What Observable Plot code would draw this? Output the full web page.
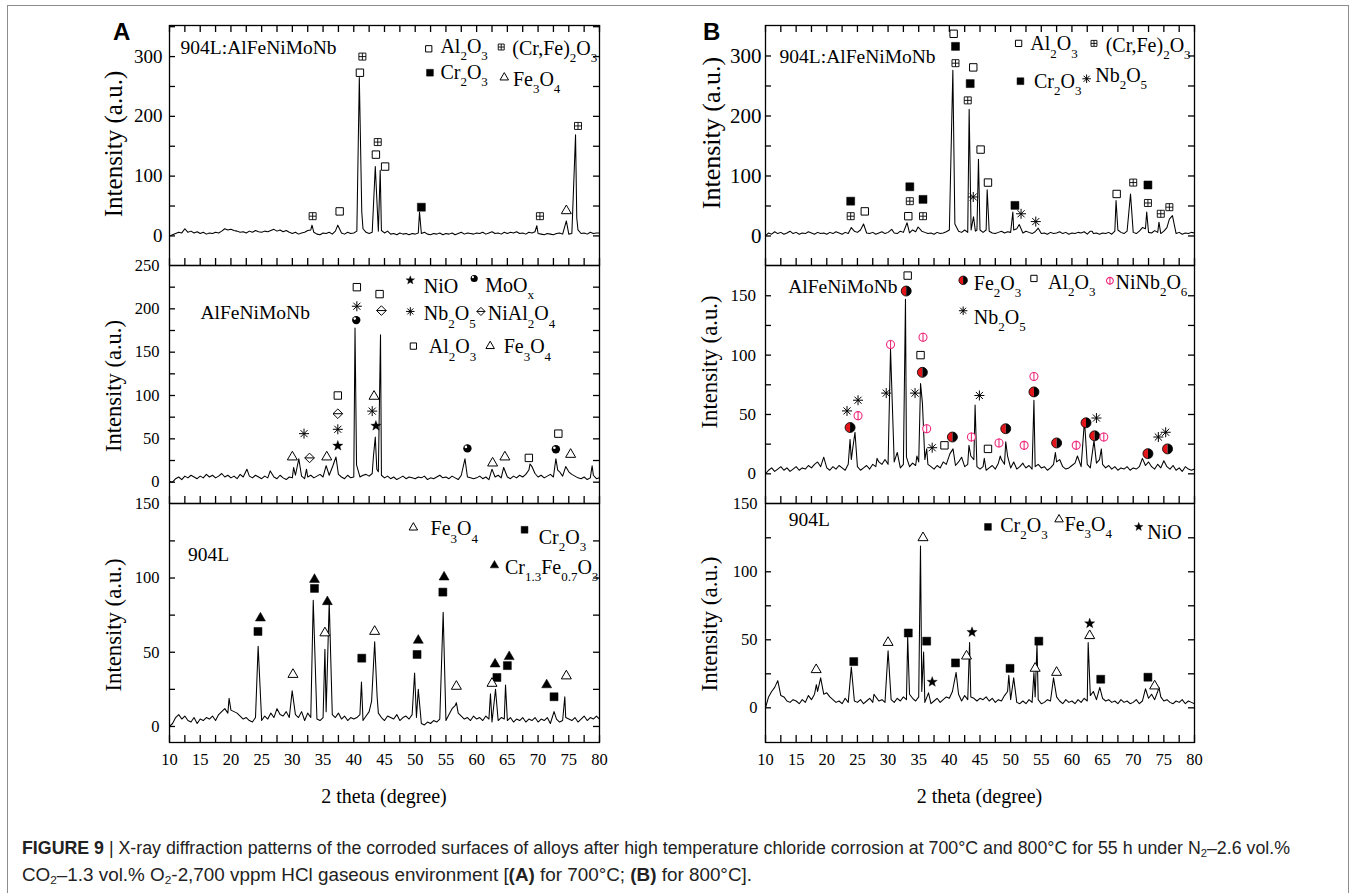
<!DOCTYPE html>
<html><head><meta charset="utf-8">
<script src="https://cdn.jsdelivr.net/npm/d3@7"></script>
<script src="https://cdn.jsdelivr.net/npm/@observablehq/plot@0.6"></script>
<style>
html,body{margin:0;padding:0;background:#fff;}
body{width:1354px;height:893px;overflow:hidden;position:relative;font-family:"Liberation Serif","Times New Roman",serif;}
#border{position:absolute;left:7px;top:5px;width:1340px;height:1000px;border:1px solid #8c8c8c;}
.panel{position:absolute;}
#overlay{position:absolute;left:0;top:0;pointer-events:none;}
.cap{position:absolute;left:22px;white-space:nowrap;font-family:"Liberation Sans",Arial,sans-serif;font-size:17.5px;color:#222;transform-origin:0 50%;line-height:20px;}
.cap sub{font-size:11px;vertical-align:-3px;line-height:0;}
</style></head><body>
<div id="border"></div>
<div id="root"></div>
<svg id="overlay" width="1354" height="893"></svg>
<div id="cap1" class="cap" style="top:838px"><b>FIGURE 9</b> | X-ray diffraction patterns of the corroded surfaces of alloys after high temperature chloride corrosion at 700°C and 800°C for 55 h under N<sub>2</sub>–2.6 vol.%</div>
<div id="cap2" class="cap" style="top:865px">CO<sub>2</sub>–1.3 vol.% O<sub>2</sub>-2,700 vppm HCl gaseous environment [<b>(A)</b> for 700°C; <b>(B)</b> for 800°C].</div>
<script>
// ---------------- DATA ----------------
// 2θ grid of the baseline samples: start and step (degrees)
const X0 = 10, STEP = 0.5;
const X_TICKS = [10,15,20,25,30,35,40,45,50,55,60,65,70,75,80];

// Baseline intensities (a.u.), one value every 0.5° from 10° to 80°
const BASE_A1 = [0,2,4,6,5,12,6,8,5,7, 4,6,3,5,4,6,5,8,12,10, 11,9,8,6,7,5,8,6,9,7, 6,8,7,9,11,8,10,7,9,6,
 4,6,3,5,6,9,10,6,3,2, 5,4,6,3,8,12,5,3,6,4, 5,8,9,12,6,4,6,7,8,9, 5,8,3,4,2,5,3,4,2,4,
 3,5,4,6,3,2,4,3,5,2, 4,3,5,2,4,6,3,5,4,3, 5,4,6,3,5,7,4,5,3,6, 4,6,5,7,4,5,3,6,5,7,
 4,3,2,4,3,2,4,5,3,6, 3,4,8,10,4,5,3,6,4,5, 5];
const BASE_A2 = [1,0,4,6,3,7,5,8,6,4, 7,5,9,6,8,5,7,10,6,8, 5,7,4,9,6,8,7,5,8,6, 4,7,5,9,6,4,8,5,3,6,
 5,8,6,7,4,6,8,5,7,9, 6,12,8,10,7,9,6,4,8,5, 6,12,6,8,9,7,10,12,12,8, 5,7,4,6,3,5,7,4,6,5,
 4,6,5,7,3,5,4,6,8,5, 6,4,7,5,3,8,9,6,5,4, 5,7,4,6,3,9,6,8,5,7, 6,4,7,5,8,6,9,14,18,10,
 6,8,5,7,9,6,8,12,7,6, 12,9,7,5,4,6,3,5,8,4, 5];
const BASE_A3 = [0,2,6,8,5,7,4,3,6,2, 5,4,6,5,7,4,8,10,12,9, 11,10,9,7,5,6,4,3,6,5, 4,7,5,9,6,12,8,7,10,6,
 5,8,6,10,4,9,6,7,5,4, 6,10,5,8,6,9,5,7,4,6, 5,6,8,4,7,10,14,12,9,6, 4,7,6,5,8,4,6,7,5,8,
 6,4,2,1,3,2,4,3,5,6, 4,8,12,14,9,7,5,6,4,7, 5,6,4,7,5,3,8,4,6,5, 4,6,3,5,4,6,3,5,4,6,
 3,5,4,6,2,4,5,3,4,6, 5,4,6,3,5,7,4,6,5,7, 5];
const BASE_B1 = [0,5,3,7,4,6,3,5,8,4, 6,3,5,4,7,5,3,6,4,5, 3,6,4,7,5,3,6,4,5,8, 6,10,8,5,4,6,3,5,7,4,
 6,10,5,4,8,6,9,5,10,7, 12,8,6,4,5,3,6,4,5,7, 10,12,15,8,6,10,6,8,6,10, 5,6,10,8,5,4,6,8,5,7,
 6,10,12,8,5,8,6,4,7,6, 4,5,3,6,4,5,7,4,6,3, 5,4,6,5,7,3,8,4,5,3, 5,4,6,3,8,10,6,4,8,12,
 6,4,8,14,12,6,5,9,6,4, 8,14,12,7,4,6,3,5,4,6, 5];
const BASE_B2 = [0,3,5,2,4,6,3,5,2,4, 6,3,5,4,7,5,8,10,6,9, 5,3,6,4,7,5,3,8,12,15, 6,3,5,7,4,8,6,10,8,12,
 8,12,10,6,5,8,14,6,9,7, 10,15,12,8,6,4,7,5,10,8, 9,12,7,10,14,6,8,15,12,6, 4,6,3,5,7,4,9,12,8,15,
 5,8,4,6,9,5,7,4,6,8, 5,6,3,5,8,10,12,6,4,5, 7,9,12,6,10,8,5,7,9,12, 8,5,7,4,6,3,5,4,6,3,
 5,4,6,8,7,10,6,4,8,5, 9,6,4,7,3,5,2,6,4,3, 4];
const BASE_B3 = [0,8,12,15,12,9,8,5,4,6, 5,3,6,4,9,6,10,12,14,10, 11,8,6,4,5,3,7,4,6,5, 4,6,3,5,7,4,8,5,6,4,
 5,6,4,7,5,8,6,10,7,5, 8,12,4,6,3,5,7,4,6,8, 7,12,8,10,5,9,6,8,7,5, 7,6,8,5,7,4,6,5,9,12,
 6,8,4,3,5,3,6,4,8,6, 3,4,6,5,4,8,5,3,6,4, 5,3,6,4,7,5,9,12,6,10, 7,5,6,4,5,3,6,4,5,3,
 4,6,3,5,8,7,10,6,12,8, 5,6,4,3,5,4,6,3,5,4, 3];

// Diffraction peaks [2θ, intensity]
const PEAKS_A1 = [[33.2,18],[37.4,18],[40.9,265],[41.3,40],[43.5,116],[44.3,110],[50.7,40],[69.8,17],[74.6,25],[76.1,169],[76.3,30]];
const PEAKS_A2 = [[22.6,15],[26.4,13],[30.2,17],[31.05,27],[32.3,15],[35.5,19],[36.6,19],[37.1,29],[40.2,178],[40.45,20],[43.2,30],[43.5,52],[43.75,15],[44.35,170],[58.1,27],[62.5,15],[64.4,17],[68.7,21],[72.9,27],[73.2,14],[74.5,18],[78.8,19]];
const PEAKS_A3 = [[19.7,19],[24.43,54],[29.97,24],[33.4,85],[35.3,52],[36.0,84],[41.25,30],[42.9,17],[43.4,57],[43.8,20],[49.9,36],[50.2,6],[50.5,25],[54.55,77],[56.7,16],[62.25,22],[63.07,25],[64.7,28],[72.6,10],[74.35,20]];
const PEAKS_B1 = [[24.0,14],[26.0,20],[30.6,11],[33.1,22],[34.9,15],[40.57,276],[40.9,20],[43.23,211],[43.55,10],[43.94,32],[44.25,8],[44.75,128],[45.0,10],[46.17,77],[50.36,40],[51.4,19],[54.5,13],[63.3,8],[67.2,59],[69.56,70],[72.2,40],[74.2,23],[75.9,28],[76.4,34]];
const PEAKS_B2 = [[19.5,14],[23.8,29],[24.2,20],[24.6,35],[28.2,13],[30.4,105],[31.5,18],[32.84,147],[34.7,15],[35.3,76],[35.6,60],[36.3,21],[40.1,17],[40.6,21],[43.2,24],[44.2,58],[45.7,13],[48.3,15],[49.2,27],[50.5,10],[52.2,7],[53.8,62],[57.3,18],[60.9,15],[62.05,45],[63.6,28],[64.8,21],[71.5,13],[75.0,11]];
const PEAKS_B3 = [[12.0,20],[18.3,17],[19.0,22],[24.0,30],[27.7,10],[30.0,42],[33.2,52],[35.29,119],[35.8,41],[36.6,11],[41.1,26],[43.3,48],[49.7,24],[50.5,22],[53.8,26],[54.3,47],[57.0,22],[62.65,48],[64.55,15],[72.0,14],[74.2,15]];

// Phase identification markers [phase, 2θ, intensity]
const MARK_A1 = [["CF",33.3,33],["AL",37.7,41],["AL",41.0,273],["CF",41.4,300],["CF",43.9,157],["AL",43.6,136],["AL",45.1,116],["CR",51.0,48],["CF",70.3,33],["FE3",74.6,42],["CF",76.5,184]];
const MARK_A2 = [["FE3",30.0,29],["NB",31.9,56],["NA",32.8,28],["FE3",35.6,29],["NIO",37.4,42],["NB",37.4,61],["NA",37.4,79],["AL",37.4,100],["MO",40.4,187],["NB",40.5,203],["AL",40.5,225],["AL",44.2,217],["NA",44.5,198],["FE3",43.3,99],["NB",43.0,82],["NIO",43.6,65],["MO",58.5,39],["FE3",62.6,22],["FE3",64.6,29],["AL",68.5,28],["AL",73.3,56],["MO",72.9,38],["FE3",75.3,32]];
const MARK_A3 = [["CR",24.4,64],["CFO",24.8,73],["FE3",30.1,35],["CR",33.6,93],["CFO",33.6,99],["FE3",35.3,63],["CFO",35.7,84],["CR",41.3,46],["FE3",43.4,64],["CR",50.3,48.5],["CFO",50.5,58],["CR",54.5,90.5],["CFO",54.7,100.6],["FE3",56.7,27],["FE3",62.5,29],["CFO",63.0,42],["CR",63.3,33],["CR",65.0,41],["CFO",65.3,47],["CR",72.6,20],["CFO",71.4,28],["FE3",74.6,34]];
const MARK_B1 = [["CR",23.9,58],["CF",23.9,33],["AL",26.2,41],["CR",33.55,82],["CF",33.55,58],["AL",33.3,33],["CR",35.7,61],["CF",35.7,33],["AL",40.7,337],["CR",41.0,316],["CF",41.0,288],["AL",43.9,281],["CR",43.4,254],["CF",43.0,226],["NB",43.9,65],["AL",45.1,144],["AL",46.3,89],["CR",50.7,51],["NB",51.7,37],["NB",54.1,24],["AL",67.3,70],["CF",70.0,89],["CR",72.4,85],["CF",72.4,55],["CF",74.5,37],["CF",75.9,48]];
const MARK_B2 = [["FE2",23.8,39],["NB",23.3,53],["NB",25.1,62],["NN",25.1,49],["NB",29.7,68],["NN",30.4,109],["FE2",32.96,154],["AL",33.2,167],["NB",34.4,68],["NN",35.7,115],["AL",35.3,100],["FE2",35.6,85.5],["NN",36.3,38],["NB",37.2,22],["AL",39.2,24],["FE2",40.5,31],["NN",43.6,31],["AL",46.3,21],["NB",44.9,66],["NN",48.1,26],["FE2",49.2,38],["NN",52.2,24],["FE2",53.8,69],["NN",53.8,82],["FE2",57.5,26],["NN",60.7,24],["FE2",62.3,43],["NB",64.0,47],["FE2",63.7,32],["NN",65.2,31],["FE2",72.4,17],["NB",74.1,31],["NB",75.3,35],["FE2",75.6,21]];
const MARK_B3 = [["FE3",18.27,28],["CR",24.4,34],["FE3",30.0,48],["CR",33.3,55],["FE3",35.7,125],["CR",36.3,49],["NIO",37.2,19],["CR",41.0,33],["FE3",42.8,38],["NIO",43.7,55.6],["CR",49.9,29],["FE3",54.0,29],["CR",54.6,49],["FE3",57.5,26],["NIO",62.9,62],["FE3",62.9,53],["CR",64.7,21],["CR",72.4,22.5],["FE3",73.5,16]];

// Phase names (legend text; "_" marks a subscript)
const PHASE_NAMES = {AL:"Al_2O_3", CF:"(Cr,Fe)_2O_3", CR:"Cr_2O_3", FE3:"Fe_3O_4", CFO:"Cr_{1.3}Fe_{0.7}O_3", NIO:"NiO", MO:"MoO_x", NB:"Nb_2O_5", NA:"NiAl_2O_4", FE2:"Fe_2O_3", NN:"NiNb_2O_6"};
const SAMPLES = {A1:"904L:AlFeNiMoNb", A2:"AlFeNiMoNb", A3:"904L", B1:"904L:AlFeNiMoNb", B2:"AlFeNiMoNb", B3:"904L"};

// ---------------- LAYOUT (positions in data units) ----------------
const LAYOUT = {
  A1:{sym:[["AL",52.2,313],["CF",64.0,316],["CR",52.4,273],["FE3",64.5,265]],
      lab:[["AL",54.1,317],["CF",65.8,313],["CR",54.1,273],["FE3",65.9,261]], title:[11.8,315]},
  A2:{sym:[["NIO",49.2,233],["MO",59.6,235],["NB",49.2,197],["NA",60.7,197],["AL",49.7,157],["FE3",62.2,157]],
      lab:[["NIO",51.4,226],["MO",61.4,227],["NB",51.4,194],["NA",61.8,194],["AL",52.2,156],["FE3",64.4,156]], title:[15.05,195]},
  A3:{sym:[["FE3",49.7,134],["CR",67.8,132.5],["CFO",62.9,108.5]],
      lab:[["FE3",52.5,133],["CR",70.1,127.5],["CFO",64.6,107]], title:[13.0,116]},
  B1:{sym:[["AL",51.3,321],["CF",63.6,321],["CR",51.6,258],["NB",62.4,262]],
      lab:[["AL",53.2,320],["CF",65.5,318],["CR",53.8,257],["NB",63.8,267]], title:[12.3,299]},
  B2:{sym:[["FE2",42.25,163],["AL",53.8,164.6],["NN",66.2,162.6],["NB",42.25,137.4]],
      lab:[["FE2",44.0,160],["AL",56.1,161],["NN",67.1,161],["NB",44.0,132]], title:[13.7,158]},
  B3:{sym:[["CR",46.3,133],["FE3",57.9,138.5],["NIO",70.9,133]],
      lab:[["CR",48.3,134],["FE3",58.8,135],["NIO",72.3,129]], title:[13.8,138.5]}
};

const PANELS = [
  {id:"A1", left:169, top:25, w:430, h:240, ydom:[-49.5,352], ylab:[0,100,200,300], ystep:50, yfont:19, ypad:7, topTicks:true, xlabels:false, base:BASE_A1, peaks:PEAKS_A1, marks:MARK_A1},
  {id:"A2", left:169, top:265, w:430, h:238, ydom:[-24.6,250], ylab:[0,50,100,150,200,250], ystep:25, yfont:16.5, ypad:10, topTicks:false, xlabels:false, base:BASE_A2, peaks:PEAKS_A2, marks:MARK_A2},
  {id:"A3", left:169, top:503, w:430, h:239, ydom:[-10.8,150.2], ylab:[0,50,100,150], ystep:25, yfont:16.5, ypad:10, topTicks:false, xlabels:true, base:BASE_A3, peaks:PEAKS_A3, marks:MARK_A3},
  {id:"B1", left:765, top:25, w:429, h:240, ydom:[-49.2,350.8], ylab:[0,100,200,300], ystep:50, yfont:21, ypad:4, topTicks:true, xlabels:false, base:BASE_B1, peaks:PEAKS_B1, marks:MARK_B1},
  {id:"B2", left:765, top:265, w:429, h:238, ydom:[-25,175.5], ylab:[0,50,100,150], ystep:25, yfont:17, ypad:9.5, topTicks:false, xlabels:false, base:BASE_B2, peaks:PEAKS_B2, marks:MARK_B2},
  {id:"B3", left:765, top:503, w:429, h:239, ydom:[-25.5,150.2], ylab:[0,50,100,150], ystep:25, yfont:17, ypad:8, topTicks:false, xlabels:true, base:BASE_B3, peaks:PEAKS_B3, marks:MARK_B3}
];

// ---------------- SYMBOLS ----------------
const rad = s => Math.sqrt(s / Math.PI);
const SQ = {draw(c,s){const r=rad(s); c.rect(-r,-r,2*r,2*r);}};
const SQPLUS = {draw(c,s){const r=rad(s); c.rect(-r,-r,2*r,2*r); c.moveTo(-r,0); c.lineTo(r,0); c.moveTo(0,-r); c.lineTo(0,r);}};
const TRI = {draw(c,s){const r=rad(s), a=2*r, h=a*Math.sqrt(3)/2; c.moveTo(0,-2*h/3); c.lineTo(a/2,h/3); c.lineTo(-a/2,h/3); c.closePath();}};
const STAR = {draw(c,s){const R=rad(s), ri=R*0.42; for(let k=0;k<10;k++){const an=-Math.PI/2+k*Math.PI/5, rr=k%2?ri:R; const x=rr*Math.cos(an), y=rr*Math.sin(an); if(k) c.lineTo(x,y); else c.moveTo(x,y);} c.closePath();}};
const AST = {draw(c,s){const r=rad(s); for(let k=0;k<4;k++){const an=k*Math.PI/4, x=r*Math.cos(an), y=r*Math.sin(an); c.moveTo(x,y); c.lineTo(-x,-y);}}};
const DIAL = {draw(c,s){const r=rad(s); c.moveTo(0,-r); c.lineTo(r,0); c.lineTo(0,r); c.lineTo(-r,0); c.closePath(); c.moveTo(-r,0); c.lineTo(r,0);}};
const CIRC = {draw(c,s){const r=rad(s); c.moveTo(r,0); c.arc(0,0,r,0,2*Math.PI);}};
const HALFL = {draw(c,s){const r=rad(s); c.moveTo(0,-r); c.arc(0,0,r,-Math.PI/2,Math.PI/2,true); c.closePath();}};
const HALFR = {draw(c,s){const r=rad(s); c.moveTo(0,-r); c.arc(0,0,r,-Math.PI/2,Math.PI/2,false); c.closePath();}};
const VBAR = {draw(c,s){const r=rad(s); c.moveTo(0,-r); c.lineTo(0,r);}};
const PINK = "#ee2a7b", RED = "#e3151b";

function phaseMarks(phase, rows, k) {
  const o = {x: d => d[1], y: d => d[2]};
  const d = rows.filter(r => r[0] === phase);
  if (!d.length) return [];
  const sw = 1;
  switch (phase) {
    case "AL": return [Plot.dot(d, {...o, symbol:SQ, r:3.7*k, fill:"white", stroke:"black", strokeWidth:sw})];
    case "CF": return [Plot.dot(d, {...o, symbol:SQPLUS, r:3.5*k, fill:"white", stroke:"black", strokeWidth:0.9})];
    case "CR": return [Plot.dot(d, {...o, symbol:SQ, r:4*k, fill:"black", stroke:"black", strokeWidth:0.5})];
    case "FE3": return [Plot.dot(d, {...o, symbol:TRI, r:5*k, fill:"white", stroke:"black", strokeWidth:sw})];
    case "CFO": return [Plot.dot(d, {...o, symbol:TRI, r:5*k, fill:"black", stroke:"black", strokeWidth:0.5})];
    case "NIO": return [Plot.dot(d, {...o, symbol:STAR, r:5.4*k, fill:"black", stroke:"black", strokeWidth:0.3})];
    case "MO": return [Plot.dot(d, {...o, symbol:CIRC, r:4.2*k, fill:"black"}),
                       Plot.dot(d, {...o, symbol:CIRC, r:1.3*k, fill:"white", dx:-1.5*k, dy:-1.5*k})];
    case "NB": return [Plot.dot(d, {...o, symbol:AST, r:5*k, fill:"none", stroke:"black", strokeWidth:1})];
    case "NA": return [Plot.dot(d, {...o, symbol:DIAL, r:4.8*k, fill:"white", stroke:"black", strokeWidth:sw})];
    case "FE2": return [Plot.dot(d, {...o, symbol:HALFL, r:5*k, fill:RED}),
                        Plot.dot(d, {...o, symbol:HALFR, r:5*k, fill:"black"}),
                        Plot.dot(d, {...o, symbol:CIRC, r:5*k, fill:"none", stroke:"black", strokeWidth:0.8})];
    case "NN": return [Plot.dot(d, {...o, symbol:CIRC, r:4*k, fill:"white", stroke:PINK, strokeWidth:1.1}),
                       Plot.dot(d, {...o, symbol:VBAR, r:4.6*k, fill:"none", stroke:PINK, strokeWidth:1.1})];
  }
  return [];
}
const PHASES = Object.keys(PHASE_NAMES);

function series(base, peaks) {
  const pts = [];
  base.forEach((v, i) => {
    const x = X0 + i * STEP;
    if (!peaks.some(p => Math.abs(p[0] - x) < 0.12)) pts.push({x, y: v});
  });
  peaks.forEach(p => pts.push({x: p[0], y: p[1]}));
  pts.sort((a, b) => a.x - b.x);
  return pts;
}

// subscripts: "_2" or "_{1.3}"
function applySubs(el, fs) {
  const ns = "http://www.w3.org/2000/svg";
  const subFs = Math.round(fs * 0.65), dy = fs * 0.36;
  el.querySelectorAll("text").forEach(t => {
    const s = t.textContent;
    if (!s.includes("_")) return;
    const re = /_\{([^}]*)\}|_(.)/g;
    const parts = []; let last = 0, m;
    while ((m = re.exec(s))) {
      if (m.index > last) parts.push([s.slice(last, m.index), false]);
      parts.push([m[1] !== undefined ? m[1] : m[2], true]);
      last = re.lastIndex;
    }
    if (last < s.length) parts.push([s.slice(last), false]);
    t.textContent = "";
    let down = false;
    for (const [str, sub] of parts) {
      const ts = document.createElementNS(ns, "tspan");
      ts.textContent = str;
      if (sub) { ts.setAttribute("font-size", subFs); if (!down) { ts.setAttribute("dy", dy); down = true; } }
      else if (down) { ts.setAttribute("dy", -dy); down = false; }
      t.appendChild(ts);
    }
  });
}

const rootEl = document.getElementById("root");
const xMinor = d3.range(10, 80.001, 2.5);

for (const p of PANELS) {
  const L = LAYOUT[p.id];
  const mL = 60, mR = 30, mT = 12, mB = p.xlabels ? 40 : 12;
  const yAll = d3.range(0, p.ydom[1] - 1, p.ystep);
  const yLen = 7 * (p.ydom[1] - p.ydom[0]) / p.h;   // 7 px tick length in y units
  const xLen = 6 * 70 / p.w;                         // 6 px tick length in x units
  const ts = {stroke:"black", strokeWidth:1.3};
  const marks = [
    Plot.line(series(p.base, p.peaks), {x:"x", y:"y", stroke:"black", strokeWidth:1.05})
  ];
  for (const ph of PHASES) marks.push(...phaseMarks(ph, p.marks, 1));
  for (const ph of PHASES) marks.push(...phaseMarks(ph, L.sym, 0.85));
  marks.push(Plot.text(L.lab, {x: d => d[1], y: d => d[2], text: d => PHASE_NAMES[d[0]], textAnchor:"start", fontSize:20, fill:"black"}));
  marks.push(Plot.text([SAMPLES[p.id]], {x: () => L.title[0], y: () => L.title[1], text: d => d, textAnchor:"start", fontSize:19.5, fill:"black"}));
  marks.push(Plot.frame({stroke:"black", strokeWidth:1.3}));
  marks.push(Plot.ruleX(xMinor, {x: d => d, y1: () => p.ydom[0], y2: () => p.ydom[0] + yLen, ...ts}));
  if (p.topTicks) marks.push(Plot.ruleX(xMinor, {x: d => d, y1: () => p.ydom[1] - yLen, y2: () => p.ydom[1], ...ts}));
  marks.push(Plot.ruleY(yAll, {y: d => d, x1: () => 10, x2: () => 10 + xLen, ...ts}));
  marks.push(Plot.ruleY(yAll, {y: d => d, x1: () => 80 - xLen, x2: () => 80, ...ts}));

  const svg = Plot.plot({
    width: p.w + mL + mR, height: p.h + mT + mB,
    marginLeft: mL, marginRight: mR, marginTop: mT, marginBottom: mB,
    x: {domain:[10,80], ticks:X_TICKS, tickSize:0, tickPadding:11, label:null, axis: p.xlabels ? "bottom" : null},
    y: {domain:p.ydom, ticks:p.ylab, tickSize:0, tickPadding:p.ypad, label:null},
    style: {background:"transparent", overflow:"visible", maxWidth:"none", color:"black",
            fontFamily:'"Liberation Serif","Times New Roman",serif', fontSize: (p.xlabels ? 16.5 : p.yfont) + "px"},
    marks
  });
  const div = document.createElement("div");
  div.className = "panel";
  div.style.left = (p.left - mL) + "px";
  div.style.top = (p.top - mT) + "px";
  div.style.width = (p.w + mL + mR) + "px";
  div.appendChild(svg);
  rootEl.appendChild(div);
  applySubs(svg, 20);
}

// ---------------- overlay texts ----------------
const ov = d3.select("#overlay");
const serif = '"Liberation Serif","Times New Roman",serif';
[["A",113],["B",703]].forEach(([t,x]) => ov.append("text").attr("x", x).attr("y", 40)
  .attr("font-family", '"Liberation Sans",Arial,sans-serif').attr("font-weight", "bold").attr("font-size", 24).text(t));
[[113,144,25],[113,386,22.5],[113,625,22.7],[711,133,26],[709,362,22.7],[709,624,23]].forEach(([x,y,fs]) =>
  ov.append("text").attr("transform", `translate(${x},${y}) rotate(-90)`).attr("text-anchor","middle")
    .attr("dominant-baseline","central").attr("font-family", serif).attr("font-size", fs).text("Intensity (a.u.)"));
[[384,796],[979.5,796]].forEach(([x,y]) => ov.append("text").attr("x", x).attr("y", y).attr("text-anchor","middle")
  .attr("dominant-baseline","central").attr("font-family", serif).attr("font-size", 20).text("2 theta (degree)"));

// caption fit
[["cap1",1268],["cap2",730]].forEach(([id, w]) => {
  const el = document.getElementById(id);
  const nat = el.getBoundingClientRect().width;
  el.style.transform = `scaleX(${w / nat})`;
});
</script>
</body></html>
